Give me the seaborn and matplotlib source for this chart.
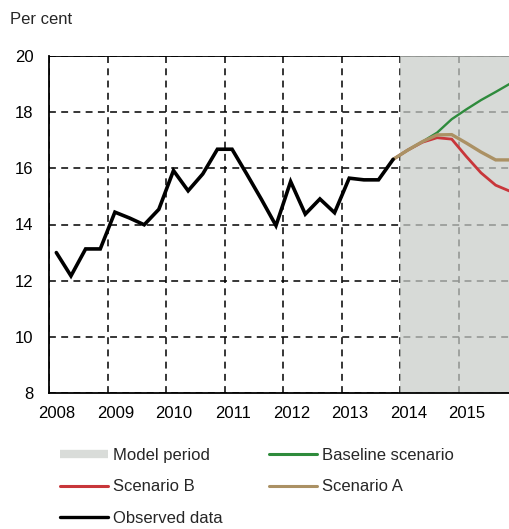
import matplotlib
matplotlib.use("Agg")
import matplotlib.pyplot as plt
import matplotlib.transforms as mtransforms
from matplotlib.lines import Line2D
from matplotlib import font_manager
import seaborn as sns
import pandas as pd
import numpy as np

# ---- data ----
obs_x = [2008.125 + 0.25 * k for k in range(24)]
obs_y = [13.0, 12.17, 13.13, 13.13,
         14.44, 14.23, 13.99, 14.54,
         15.92, 15.2, 15.8, 16.68,
         16.68, 15.8, 14.9, 13.96,
         15.53, 14.37, 14.91, 14.42,
         15.65, 15.59, 15.59, 16.32]
scen_x = [2013.875 + 0.25 * k for k in range(9)]
baseline_y = [16.32, 16.65, 16.95, 17.27, 17.75, 18.1, 18.43, 18.72, 19.02]
scen_b_y = [16.32, 16.65, 16.93, 17.09, 17.04, 16.42, 15.84, 15.4, 15.18]
scen_a_y = [16.32, 16.65, 16.95, 17.19, 17.2, 16.9, 16.58, 16.3, 16.3]
year_ticks = [2008, 2009, 2010, 2011, 2012, 2013, 2014, 2015]
y_ticks = [8, 10, 12, 14, 16, 18, 20]
model_start = 2014

sns.set_theme(style="white")
names = {f.name for f in font_manager.fontManager.ttflist}
if "Liberation Sans Narrow" in names:
    fam, fs = "Liberation Sans Narrow", 14
else:
    fam, fs = "Liberation Sans", 12
plt.rcParams["font.family"] = [fam, "DejaVu Sans"]

fig = plt.figure(figsize=(5.10, 5.29), dpi=100)
ax = fig.add_axes([49 / 510, 1 - 393 / 529, 1 - 49 / 510, (393 - 56) / 529])

frames = []
for name, xs, ys in [("Baseline scenario", scen_x, baseline_y),
                     ("Scenario B", scen_x, scen_b_y),
                     ("Scenario A", scen_x, scen_a_y),
                     ("Observed data", obs_x, obs_y)]:
    frames.append(pd.DataFrame({"x": xs, "y": ys, "series": name}))
df = pd.concat(frames, ignore_index=True)

colors = {"Baseline scenario": "#2e8b3c", "Scenario B": "#c8363a",
          "Scenario A": "#ab9164", "Observed data": "#000000"}
widths = {"Baseline scenario": 1.7, "Scenario B": 2.0,
          "Scenario A": 2.4, "Observed data": 2.6}
for i, name in enumerate(["Baseline scenario", "Scenario B", "Scenario A", "Observed data"]):
    sub = df[df["series"] == name]
    sns.lineplot(data=sub, x="x", y="y", ax=ax, color=colors[name],
                 lw=widths[name], zorder=3 + i, legend=False,
                 solid_joinstyle="miter")

ax.set_xlim(2008, 2015.87)
ax.set_ylim(8, 20)
ax.set_xticks(year_ticks)
ax.set_yticks(y_ticks)
ax.set_xticklabels([str(y) for y in year_ticks])
ax.set_yticklabels([str(v) for v in y_ticks])
ax.set_xlabel("")
ax.set_ylabel("")
ax.grid(True, color="black", lw=1.1, linestyle=(0, (4.5, 3.5)))
ax.set_axisbelow(True)
ax.axhline(20, color="black", lw=1.3, zorder=1)
ax.axvspan(model_start, 2016.5, color=(200 / 255, 204 / 255, 200 / 255),
           alpha=0.72, lw=0, zorder=1.5)

for s in ["top", "right"]:
    ax.spines[s].set_visible(False)
for s in ["left", "bottom"]:
    ax.spines[s].set_color("black")
    ax.spines[s].set_linewidth(1.3)

ax.tick_params(axis="both", length=0, labelsize=fs, colors="black")
ax.tick_params(axis="y", pad=11)
ax.tick_params(axis="x", pad=9)
offset = mtransforms.ScaledTranslation(8 / 100, 0, fig.dpi_scale_trans)
for lab in ax.get_xticklabels():
    lab.set_transform(lab.get_transform() + offset)

fig.text(10 / 510, 1 - 19 / 529, "Per cent", fontsize=fs, va="center", ha="left")

handles = [
    Line2D([], [], color="#d9dcd9", lw=6, solid_capstyle="butt"),
    Line2D([], [], color=colors["Scenario B"], lw=2.2),
    Line2D([], [], color=colors["Observed data"], lw=2.4),
    Line2D([], [], color=colors["Baseline scenario"], lw=2.2),
    Line2D([], [], color=colors["Scenario A"], lw=2.2),
]
labels = ["Model period", "Scenario B", "Observed data", "Baseline scenario", "Scenario A"]
fig.legend(handles, labels, ncol=2, loc="upper left",
           bbox_to_anchor=(60 / 510, 1 - 448 / 529), frameon=False,
           fontsize=fs, handlelength=2.9, handletextpad=0.3,
           labelspacing=0.98, columnspacing=2.75, borderpad=0, borderaxespad=0)

fig.savefig("out.png", dpi=100)
